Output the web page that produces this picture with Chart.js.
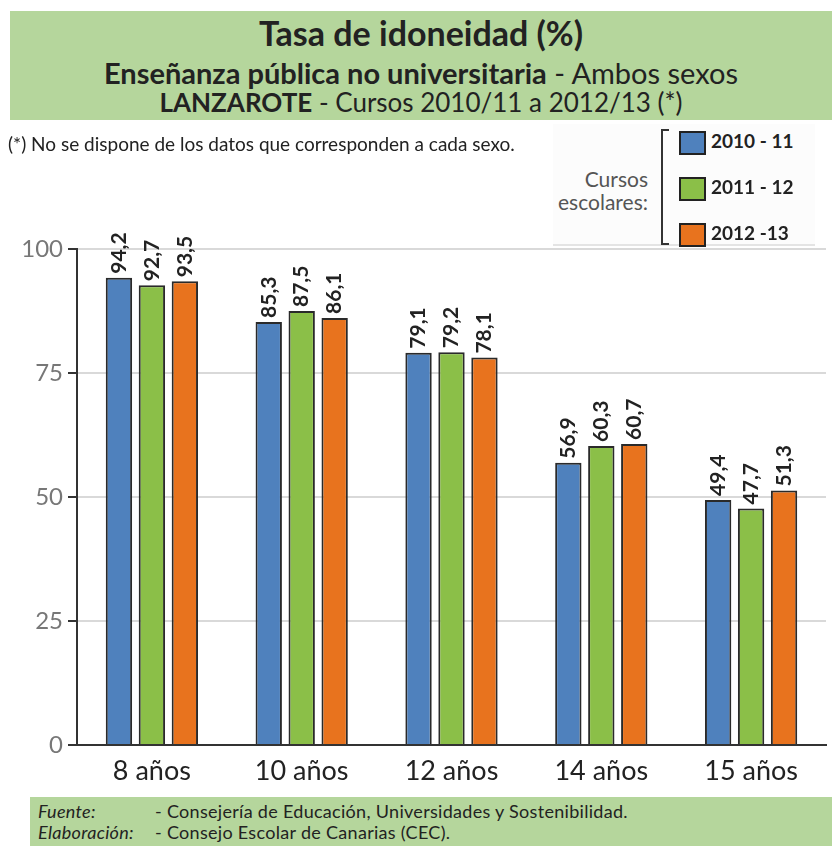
<!DOCTYPE html>
<html>
<head>
<meta charset="utf-8">
<script src="https://cdn.jsdelivr.net/npm/chart.js@4.4.0/dist/chart.umd.min.js"></script>
<style>
  body { margin: 0; background: #fff; font-family: Lato, "Open Sans", sans-serif; }
  #wrap { position: relative; width: 832px; height: 846px; overflow: hidden; }
  canvas { position: absolute; left: 0; top: 0; }
  .box { position: absolute; background: #b5d69c; }
  #head { left: 10px; top: 11px; width: 822px; height: 109px; text-align: center; color: #222; }
  #head div { position: absolute; left: 0; right: 0; white-space: nowrap; }
  #head .t1 { top: 1px; font-size: 34px; font-weight: bold; }
  #head .t2 { top: 44px; font-size: 29px; }
  #head .t3 { top: 75px; font-size: 26px; }
  #note { position: absolute; left: 8px; top: 132px; font-size: 19px; color: #222; white-space: nowrap; }
  #legbg { position: absolute; left: 553px; top: 124px; width: 262px; height: 120px; background: #fcfcfc; border-bottom: 2px solid #e4e4e4; }
  #bracket { position: absolute; left: 661px; top: 129px; width: 6px; height: 112px; border: 2px solid #333; border-right: none; }
  #cursos { position: absolute; right: 184px; top: 167px; text-align: right; font-size: 21px; line-height: 23px; color: #555; }
  .leg { position: absolute; left: 679px; font-size: 19px; font-weight: bold; color: #222; white-space: nowrap; }
  .leg span { display: inline-block; width: 23px; height: 20px; border: 2px solid #222; vertical-align: middle; margin-right: 5px; }
  #foot { left: 30px; top: 797px; width: 802px; height: 49px; font-size: 18px; letter-spacing: 0.3px; color: #222; }
  #foot div { position: absolute; left: 8px; white-space: nowrap; }
  #foot i { display: inline-block; width: 117px; }
</style>
</head>
<body>
<div id="wrap">
  <canvas id="c" width="832" height="846"></canvas>
  <div id="head" class="box">
    <div class="t1">Tasa de idoneidad (%)</div>
    <div class="t2"><b>Enseñanza pública no universitaria</b> - Ambos sexos</div>
    <div class="t3"><b>LANZAROTE</b> - Cursos 2010/11 a 2012/13 (*)</div>
  </div>
  <div id="note">(*) No se dispone de los datos que corresponden a cada sexo.</div>
  <div id="legbg"></div>
  <div id="bracket"></div>
  <div id="cursos">Cursos<br>escolares:</div>
  <div id="legend"></div>
  <div id="foot" class="box">
    <div style="top:3px"><i>Fuente:</i>- Consejería de Educación, Universidades y Sostenibilidad.</div>
    <div style="top:24px"><i>Elaboración:</i>- Consejo Escolar de Canarias (CEC).</div>
  </div>
</div>
<script>
const categories = ["8 años", "10 años", "12 años", "14 años", "15 años"];
const seriesNames = ["2010 - 11", "2011 - 12", "2012 -13"];
const values2010 = [94.2, 85.3, 79.1, 56.9, 49.4];
const values2011 = [92.7, 87.5, 79.2, 60.3, 47.7];
const values2012 = [93.5, 86.1, 78.1, 60.7, 51.3];
const yTicks = [0, 25, 50, 75, 100];
const colors = ["#4f81bd", "#8bbf48", "#e8731e"];

// legend
const legend = document.getElementById("legend");
const legTops = [129, 175, 221];
seriesNames.forEach((name, i) => {
  const d = document.createElement("div");
  d.className = "leg";
  d.style.top = legTops[i] + "px";
  d.innerHTML = `<span style="background:${colors[i]}"></span>${name}`;
  legend.appendChild(d);
});

// value labels, rotated above each bar
const valueLabels = {
  id: "valueLabels",
  afterDatasetsDraw(chart) {
    const ctx = chart.ctx;
    ctx.save();
    ctx.font = "bold 21px Lato, 'Open Sans', sans-serif";
    ctx.fillStyle = "#222";
    ctx.textAlign = "left";
    ctx.textBaseline = "middle";
    chart.data.datasets.forEach((ds, di) => {
      chart.getDatasetMeta(di).data.forEach((bar, i) => {
        ctx.save();
        ctx.translate(bar.x, bar.y - 4);
        ctx.rotate(-Math.PI / 2);
        ctx.fillText(ds.data[i].toFixed(1).replace(".", ","), 0, 0);
        ctx.restore();
      });
    });
    ctx.restore();
  }
};

new Chart(document.getElementById("c"), {
  type: "bar",
  data: {
    labels: categories,
    datasets: [values2010, values2011, values2012].map((d, i) => ({
      label: seriesNames[i],
      data: d,
      backgroundColor: colors[i],
      borderColor: "#2a2a2a",
      borderWidth: 2,
      categoryPercentage: 0.66,
      barPercentage: 0.8
    }))
  },
  options: {
    responsive: false,
    animation: false,
    events: [],
    layout: { padding: { top: 249, right: 6, left: 0, bottom: 0 } },
    plugins: { legend: { display: false }, tooltip: { enabled: false } },
    scales: {
      x: {
        grid: { display: false },
        border: { color: "#333", width: 2 },
        ticks: { color: "#222", font: { family: "Lato, 'Open Sans', sans-serif", size: 27 }, padding: 2 },
        afterFit(s) { s.height = 101; }
      },
      y: {
        min: 0, max: 100,
        afterBuildTicks(s) { s.ticks = yTicks.map(v => ({ value: v })); },
        grid: { color: "#d9d9d9", lineWidth: 2, tickColor: "#333", tickLength: 9 },
        border: { color: "#333", width: 2 },
        ticks: { color: "#777", font: { family: "Lato, 'Open Sans', sans-serif", size: 24 }, padding: 5 },
        afterFit(s) { s.width = 77; }
      }
    }
  },
  plugins: [valueLabels]
});
</script>
</body>
</html>
